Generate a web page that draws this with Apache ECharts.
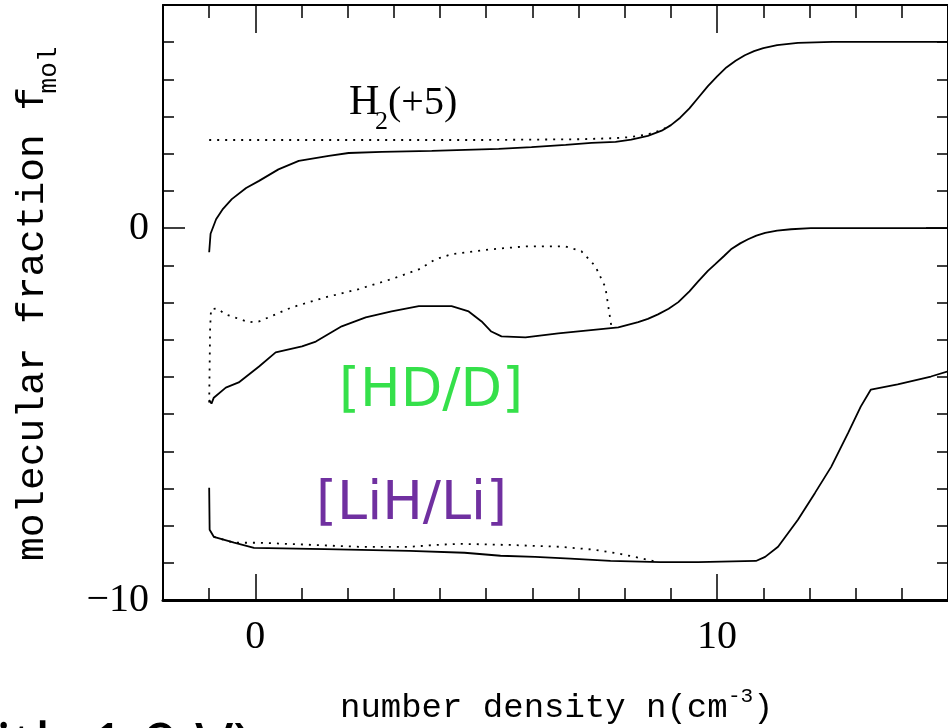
<!DOCTYPE html>
<html>
<head>
<meta charset="utf-8">
<title>molecular fraction vs number density</title>
<script src="https://cdn.jsdelivr.net/npm/echarts@6/dist/echarts.min.js"></script>
<style>
html, body { margin: 0; padding: 0; background: #fff; }
#chart { width: 948px; height: 728px; }
</style>
</head>
<body>
<div id="chart"></div>
<script>
// axis ranges and labelled ticks
var xMin = -2, xMax = 15;
var yMin = -10, yMax = 6;
var xMajor = [0, 10];
var yMajor = [-10, 0];

// [number density, molecular fraction]
var h2Solid = [[-1.0, -0.65], [-0.97, -0.15], [-0.85, 0.24], [-0.7, 0.52], [-0.51, 0.78],
  [-0.2, 1.08], [0.08, 1.27], [0.5, 1.58], [0.94, 1.81], [1.59, 1.94], [2.02, 2.02],
  [2.74, 2.05], [3.82, 2.08], [5.27, 2.13], [5.98, 2.18], [6.72, 2.24], [7.28, 2.29],
  [7.8, 2.32], [8.14, 2.38], [8.5, 2.48], [8.8, 2.62], [9.0, 2.77], [9.2, 2.97], [9.4, 3.22],
  [9.6, 3.52], [9.8, 3.82], [10.0, 4.08], [10.2, 4.32], [10.4, 4.5], [10.6, 4.65],
  [10.8, 4.76], [11.0, 4.84], [11.3, 4.92], [11.75, 4.98], [12.5, 5.01], [15, 5.01]];
var h2Dotted = [[-1.0, 2.37], [1, 2.37], [3, 2.37], [5, 2.37], [7, 2.39], [7.8, 2.42],
  [8.14, 2.45], [8.5, 2.52], [8.8, 2.64], [9.0, 2.77]];

var hdSolid = [[-1.0, -4.62], [-0.95, -4.72], [-0.9, -4.56], [-0.64, -4.29], [-0.36, -4.15],
  [0.08, -3.72], [0.44, -3.34], [1.01, -3.18], [1.31, -3.05], [1.87, -2.64], [2.39, -2.4],
  [2.95, -2.24], [3.54, -2.1], [4.25, -2.1], [4.62, -2.24], [4.9, -2.51], [5.11, -2.78],
  [5.33, -2.91], [5.85, -2.94], [6.56, -2.83], [7.43, -2.72], [7.86, -2.67], [8.29, -2.53],
  [8.5, -2.44], [8.72, -2.32], [8.95, -2.17], [9.16, -1.99], [9.4, -1.7], [9.59, -1.43],
  [9.8, -1.15], [9.96, -0.97], [10.15, -0.75], [10.3, -0.57], [10.5, -0.41], [10.67, -0.3],
  [10.85, -0.2], [11.04, -0.13], [11.3, -0.07], [11.6, -0.03], [12.03, 0], [15, 0]];
var hdDotted = [[-1.0, -4.69], [-0.98, -2.72], [-0.96, -2.18], [-0.83, -2.16], [-0.64, -2.32],
  [-0.14, -2.53], [0.08, -2.51], [0.79, -2.13], [1.52, -1.86], [2.24, -1.64], [2.95, -1.37],
  [3.54, -1.11], [3.9, -0.84], [4.25, -0.7], [5.11, -0.57], [5.85, -0.49], [6.71, -0.49],
  [7.06, -0.62], [7.36, -1.02], [7.58, -1.59], [7.71, -2.64]];

var lihSolid = [[-1.0, -6.98], [-0.99, -8.11], [-0.9, -8.3], [-0.46, -8.46], [-0.03, -8.6],
  [1.5, -8.63], [3.34, -8.68], [4.53, -8.73], [5.31, -8.81], [6.06, -8.84], [6.82, -8.89],
  [7.69, -8.95], [8.77, -8.98], [9.59, -8.98], [10.84, -8.95], [11.04, -8.84], [11.32, -8.57],
  [11.75, -7.84], [12.12, -7.12], [12.47, -6.42], [12.84, -5.5], [13.11, -4.8], [13.33, -4.34],
  [13.91, -4.2], [14.63, -3.99], [15, -3.85]];
var lihDotted = [[-0.9, -8.3], [-0.46, -8.46], [0.08, -8.46], [2.26, -8.57], [3.34, -8.57],
  [3.88, -8.52], [4.44, -8.49], [5.52, -8.52], [6.61, -8.57], [7.36, -8.65], [7.9, -8.76],
  [8.4, -8.89], [8.72, -8.98]];

var chart = echarts.init(document.getElementById('chart'));

var tickStyle = { color: '#000', width: 1.5 };
var serif = '"Liberation Serif", serif';
var mono = '"Liberation Mono", monospace';
var sans = '"DejaVu Sans", sans-serif';

// short ticks every unit on all four sides (grid 0), long ticks + labels (grid 1)
function minorAxis(pos, min, max, len, lineWidth) {
  return {
    type: 'value', gridIndex: 0, position: pos, min: min, max: max, interval: 1,
    axisLine: { onZero: false, lineStyle: { color: '#000', width: lineWidth } },
    axisTick: { inside: true, length: len, lineStyle: tickStyle },
    axisLabel: { show: false },
    splitLine: { show: false }
  };
}
function majorAxis(pos, min, max, len, values, label) {
  return {
    type: 'value', gridIndex: 1, position: pos, min: min, max: max,
    axisLine: { show: false, onZero: false },
    axisTick: { inside: true, length: len, customValues: values, lineStyle: tickStyle },
    axisLabel: label ? label : { show: false },
    splitLine: { show: false }
  };
}

function lineSeries(data, dotted) {
  return {
    type: 'line', data: data, xAxisIndex: 0, yAxisIndex: 0,
    showSymbol: false, silent: true,
    lineStyle: { color: '#000', width: 1.8, type: dotted ? [2, 6] : 'solid' }
  };
}

var option = {
  backgroundColor: '#fff',
  animation: false,
  grid: [
    { left: 163, right: -2, top: 5, bottom: 128 },
    { left: 163, right: -2, top: 5, bottom: 128 }
  ],
  xAxis: [
    minorAxis('bottom', xMin, xMax, 12, 3),
    minorAxis('top', xMin, xMax, 13, 2),
    majorAxis('bottom', xMin, xMax, 26, xMajor, {
      customValues: xMajor, color: '#000', fontFamily: serif, fontSize: 40, margin: 17
    }),
    majorAxis('top', xMin, xMax, 28, xMajor)
  ],
  yAxis: [
    minorAxis('left', yMin, yMax, 11, 2),
    minorAxis('right', yMin, yMax, 11, 2),
    majorAxis('left', yMin, yMax, 22, yMajor, {
      customValues: yMajor, color: '#000', fontFamily: serif, fontSize: 40, margin: 14,
      formatter: function (v) { return v < 0 ? '\u2212' + Math.abs(v) : String(v); }
    }),
    majorAxis('right', yMin, yMax, 22, yMajor)
  ],
  series: [
    lineSeries(h2Solid, false),
    lineSeries(h2Dotted, true),
    lineSeries(hdSolid, false),
    lineSeries(hdDotted, true),
    lineSeries(lihSolid, false),
    lineSeries(lihDotted, true)
  ],
  graphic: [
    // y axis title
    { type: 'text', x: 33, y: 324, rotation: Math.PI / 2, silent: true,
      style: { text: 'molecular fraction f', font: '39.5px ' + mono, fill: '#000',
        textAlign: 'center', textVerticalAlign: 'middle' } },
    { type: 'text', x: 49, y: 70, rotation: Math.PI / 2, silent: true,
      style: { text: 'mol', font: '26px ' + mono, fill: '#000',
        textAlign: 'center', textVerticalAlign: 'middle' } },
    // x axis title
    { type: 'text', x: 340, y: 708, silent: true,
      style: { text: 'number density n(cm', font: '34px ' + mono, fill: '#000',
        textAlign: 'left', textVerticalAlign: 'middle' } },
    { type: 'text', x: 728, y: 696, silent: true,
      style: { text: '-3', font: '21px ' + mono, fill: '#000',
        textAlign: 'left', textVerticalAlign: 'middle' } },
    { type: 'text', x: 753, y: 708, silent: true,
      style: { text: ')', font: '34px ' + mono, fill: '#000',
        textAlign: 'left', textVerticalAlign: 'middle' } },
    // curve labels
    { type: 'text', x: 349, y: 103, silent: true,
      style: { text: 'H', font: '42px ' + serif, fill: '#000',
        textAlign: 'left', textVerticalAlign: 'middle' } },
    { type: 'text', x: 375, y: 122, silent: true,
      style: { text: '2', font: '26px ' + serif, fill: '#000',
        textAlign: 'left', textVerticalAlign: 'middle' } },
    { type: 'text', x: 388, y: 103, silent: true,
      style: { text: '(+5)', font: '40px ' + serif, fill: '#000',
        textAlign: 'left', textVerticalAlign: 'middle' } },
    { type: 'text', x: 339, y: 392, silent: true,
      style: { text: '[HD/D]', font: '54px ' + sans, fill: '#35e04a',
        textAlign: 'left', textVerticalAlign: 'middle' } },
    { type: 'text', x: 316, y: 505, silent: true,
      style: { text: '[LiH/Li]', font: '54px ' + sans, fill: '#7030a0',
        textAlign: 'left', textVerticalAlign: 'middle' } },
    // caption fragment cut off at the bottom edge
    { type: 'text', x: -54, y: 751, silent: true,
      style: { text: 'with 1.9 V)', font: '63px "Noto Sans", sans-serif', fill: '#000',
        textAlign: 'left', textVerticalAlign: 'middle' } }
  ]
};

chart.setOption(option);
</script>
</body>
</html>
